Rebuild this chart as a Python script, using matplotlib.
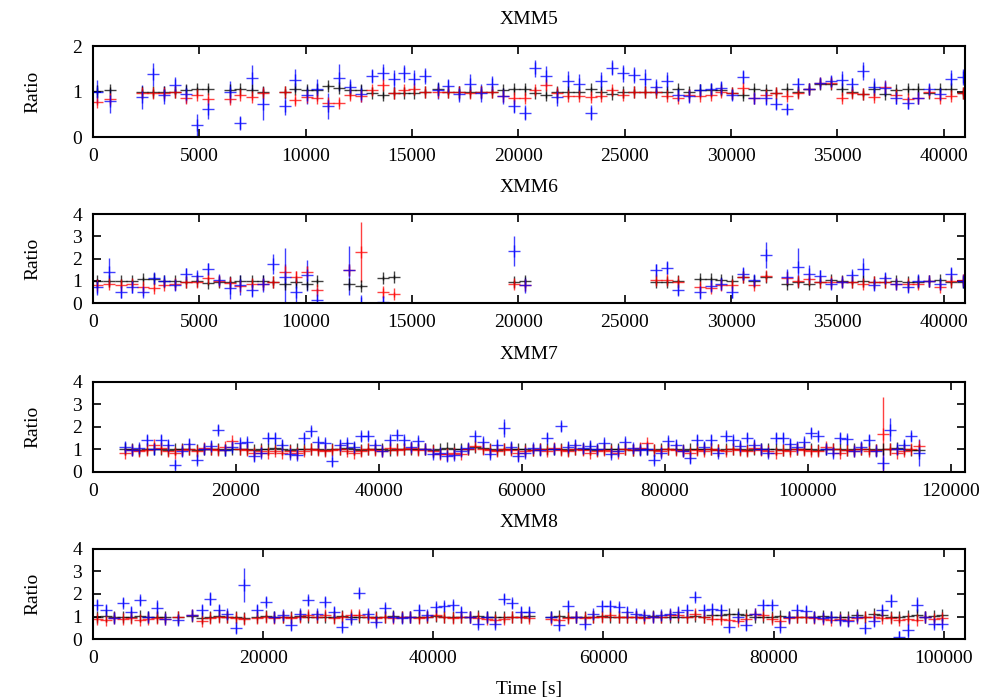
import numpy as np
import matplotlib
matplotlib.use("Agg")
import matplotlib.pyplot as plt

plt.rcParams['font.family'] = ['Liberation Serif', 'DejaVu Serif']
plt.rcParams['font.size'] = 14

# ---------------- XMM5 ----------------
t5 = [200, 800, 2300, 2800, 3350, 3870, 4370, 4890, 5390, 6430,
      6930, 7480, 7990, 9010, 9500, 10050, 10550, 11070, 11570, 12080,
      12590, 13100, 13620, 14140, 14640, 15110, 15630, 16210, 16710, 17230,
      17740, 18260, 18770, 19280, 19800, 20300, 20800, 21320, 21840, 22340,
      22860, 23400, 23880, 24390, 24910, 25440, 25960, 26480, 26980, 27500,
      28000, 28520, 29040, 29540, 30050, 30570, 31100, 31620, 32120, 32640,
      33160, 33660, 34170, 34690, 35210, 35710, 36210, 36730, 37250, 37750,
      38300, 38810, 39320, 39830, 40350, 40900]
black5 = [1.02, 1.04, 1.0, 0.99, 1.0, 1.0, 1.03, 1.05, 1.06, 1.03,
          1.05, 1.03, 1.0, 1.0, 1.06, 1.03, 1.03, 1.12, 1.09, 1.03,
          1.03, 0.98, 0.93, 0.98, 0.98, 0.98, 1.0, 1.05, 1.0, 1.0,
          1.0, 1.0, 1.0, 1.03, 1.05, 1.06, 0.98, 0.93, 1.0, 1.0,
          1.0, 1.05, 1.0, 0.96, 1.0, 1.0, 1.0, 1.0, 1.0, 1.05,
          1.0, 1.03, 1.03, 1.03, 0.98, 0.93, 1.05, 1.03, 0.98, 1.05,
          1.0, 1.06, 1.18, 1.18, 1.05, 1.0, 0.96, 1.05, 0.96, 1.03,
          1.06, 1.06, 0.98, 1.05, 1.05, 0.98]
red5 = [0.78, 0.83, 0.98, 0.97, 0.98, 1.0, 0.86, 0.93, 0.84, 0.85,
        0.93, 0.88, 0.98, 1.0, 0.81, 0.88, 0.86, 0.76, 0.76, 0.92,
        0.9, 1.03, 1.14, 0.98, 1.03, 1.06, 1.0, 1.0, 1.0, 1.0,
        0.97, 1.0, 1.0, 0.9, 0.86, 0.87, 1.03, 1.14, 0.97, 0.91,
        0.91, 0.88, 0.9, 1.03, 0.93, 1.0, 1.0, 1.0, 0.9, 0.87,
        0.93, 0.9, 0.93, 1.0, 0.98, 1.08, 0.87, 0.93, 0.98, 0.91,
        0.98, 1.06, 1.2, 1.2, 0.87, 0.98, 0.96, 0.88, 1.1, 0.93,
        0.84, 0.87, 1.0, 0.86, 0.91, 0.98]
blue5 = [1.0, 0.8, 0.88, 1.38, 0.93, 1.14, 0.95, 0.26, 0.62, 1.0,
         0.31, 1.31, 0.74, 0.69, 1.25, 0.92, 1.06, 0.69, 1.31, 1.1,
         0.96, 1.34, 1.42, 1.27, 1.4, 1.29, 1.34, 1.03, 1.12, 0.95,
         1.16, 0.98, 1.16, 0.91, 0.68, 0.54, 1.51, 1.34, 0.89, 1.23,
         1.16, 0.54, 1.23, 1.53, 1.4, 1.37, 1.29, 1.1, 1.23, 0.93,
         0.91, 1.03, 1.05, 1.08, 0.93, 1.32, 0.86, 0.86, 0.73, 0.62,
         1.16, 1.06, 1.2, 1.23, 1.25, 1.16, 1.45, 1.11, 1.08, 0.87,
         0.75, 0.87, 1.05, 0.96, 1.29, 1.32]
blue5_err = [0.25, 0.27, 0.27, 0.26, 0.2, 0.18, 0.2, 0.26, 0.22, 0.24,
             0.15, 0.27, 0.36, 0.2, 0.24, 0.2, 0.22, 0.29, 0.29, 0.18,
             0.18, 0.15, 0.18, 0.2, 0.18, 0.18, 0.17, 0.18, 0.16, 0.18,
             0.22, 0.2, 0.18, 0.17, 0.15, 0.16, 0.18, 0.22, 0.2, 0.22,
             0.22, 0.16, 0.2, 0.16, 0.18, 0.18, 0.2, 0.18, 0.2, 0.12,
             0.15, 0.15, 0.15, 0.15, 0.12, 0.15, 0.12, 0.15, 0.12, 0.12,
             0.15, 0.12, 0.1, 0.12, 0.2, 0.15, 0.2, 0.2, 0.18, 0.15,
             0.12, 0.15, 0.12, 0.12, 0.18, 0.18]

# ---------------- XMM6 ----------------
t6 = [200, 770, 1300, 1820, 2330, 2850, 3350, 3870, 4390, 4890,
      5390, 5910, 6430, 6930, 7480, 7990, 8480, 9010, 9530, 10050,
      10550, 12040, 12590, 13620, 14140, 19800, 20300, 26480, 26980, 27500,
      28520, 29040, 29540, 30050, 30570, 31100, 31620, 32640, 33160, 33660,
      34170, 34690, 35210, 35710, 36210, 36730, 37250, 37750, 38300, 38810,
      39320, 39830, 40350, 40900]
black6 = [0.99, 0.99, 0.99, 0.99, 1.08, 1.08, 0.99, 0.99, 0.96, 0.99,
          0.91, 0.96, 0.96, 0.99, 0.99, 0.99, 0.93, 0.84, 0.93, 0.84,
          0.99, 0.84, 0.76, 1.14, 1.18, 0.96, 0.99, 0.93, 0.93, 1.0,
          1.08, 1.08, 1.03, 0.99, 1.18, 1.0, 1.18, 0.88, 0.96, 0.88,
          0.96, 1.03, 0.99, 0.96, 0.99, 0.96, 0.96, 0.99, 0.96, 0.96,
          0.99, 1.03, 0.93, 0.93]
red6 = [0.81, 0.84, 0.81, 0.88, 0.73, 0.66, 0.81, 0.84, 0.96, 0.96,
        1.15, 0.99, 0.91, 0.78, 0.84, 0.86, 0.93, 1.41, 1.18, 1.41,
        0.58, 1.48, 2.28, 0.48, 0.39, 0.86, 0.81, 1.03, 1.03, 0.93,
        0.73, 0.66, 0.81, 0.81, 1.18, 0.81, 1.21, 1.11, 0.99, 1.08,
        0.96, 0.96, 0.96, 0.93, 0.84, 0.96, 0.96, 0.88, 0.88, 0.86,
        0.99, 0.73, 0.99, 1.03]
red6_err_big = {9010: 0.35, 9530: 0.25, 10050: 0.25, 12040: 0.2, 12590: 1.35, 13620: 0.2}
blue6 = [0.73, 1.41, 0.48, 0.73, 0.51, 1.11, 0.99, 0.81, 1.3, 1.21,
         1.55, 1.03, 0.69, 0.81, 0.58, 0.88, 1.78, 1.18, 0.48, 1.26,
         0.16, 1.48, 0.0, 0.05, np.nan, 2.34, 0.81, 1.48, 1.6, 0.58,
         0.48, 0.78, 0.88, 0.48, 1.33, 1.03, 2.16, 1.18, 1.63, 1.33,
         1.21, 0.85, 0.93, 1.26, 1.53, 0.81, 1.14, 0.84, 0.73, 0.99,
         0.99, 0.84, 1.33, 0.99]
blue6_err = [0.37, 0.6, 0.27, 0.27, 0.2, 0.25, 0.2, 0.2, 0.27, 0.2,
             0.27, 0.2, 0.5, 0.45, 0.3, 0.4, 0.45, 1.3, 0.65, 0.7,
             0.5, 1.1, 0.35, 0.25, np.nan, 0.68, 0.35, 0.3, 0.3, 0.2,
             0.3, 0.25, 0.3, 0.25, 0.3, 0.25, 0.6, 0.35, 0.85, 0.4,
             0.3, 0.2, 0.2, 0.2, 0.5, 0.2, 0.2, 0.2, 0.25, 0.3,
             0.2, 0.2, 0.3, 0.3]

# ---------------- XMM7 ----------------
t7 = [4500, 5500, 6500, 7500, 8500, 9500, 10500, 11500, 12500, 13500,
      14500, 15500, 16500, 17500, 18500, 19500, 20500, 21500, 22500, 23500,
      24500, 25500, 26500, 27500, 28500, 29500, 30500, 31500, 32500, 33500,
      34500, 35500, 36500, 37500, 38500, 39500, 40500, 41500, 42500, 43500,
      44500, 45500, 46500, 47500, 48500, 49500, 50500, 51500, 52500, 53500,
      54500, 55500, 56500, 57500, 58500, 59500, 60500, 61500, 62500, 63500,
      64500, 65500, 66500, 67500, 68500, 69500, 70500, 71500, 72500, 73500,
      74500, 75500, 76500, 77500, 78500, 79500, 80500, 81500, 82500, 83500,
      84500, 85500, 86500, 87500, 88500, 89500, 90500, 91500, 92500, 93500,
      94500, 95500, 96500, 97500, 98500, 99500, 100500, 101500, 102500, 103500,
      104500, 105500, 106500, 107500, 108500, 109500, 110500, 111500, 112500, 113500,
      114500, 115500]
black7 = [1.0, 1.02, 0.98, 1.0, 1.03, 1.0, 0.98, 1.0, 1.02, 1.0,
          0.97, 1.0, 1.02, 1.0, 0.98, 1.03, 1.0, 1.0, 0.98, 1.02,
          1.0, 1.05, 1.0, 0.98, 1.0, 1.02, 1.0, 1.0, 0.97, 1.0,
          1.02, 1.05, 1.0, 0.98, 1.0, 1.02, 1.0, 0.98, 1.0, 1.03,
          1.0, 1.02, 1.0, 0.98, 1.0, 1.05, 1.0, 1.02, 1.0, 1.1,
          1.05, 1.0, 0.98, 1.0, 1.02, 1.0, 1.0, 0.98, 1.0, 1.02,
          1.0, 1.0, 0.97, 1.0, 1.02, 1.0, 0.98, 1.0, 1.03, 1.0,
          1.0, 0.98, 1.02, 1.0, 0.95, 1.0, 1.02, 1.0, 0.98, 1.0,
          1.02, 1.0, 1.0, 0.98, 1.0, 1.03, 1.0, 0.98, 1.0, 1.02,
          1.0, 1.0, 0.98, 1.0, 1.02, 1.0, 1.0, 0.98, 1.0, 1.03,
          1.0, 0.98, 1.0, 1.02, 1.0, 0.98, 1.0, 1.02, 1.05, 1.0,
          0.98, 0.95]
red7 = [0.85, 0.95, 0.9, 0.95, 1.2, 1.05, 0.9, 0.85, 0.95, 1.0,
        0.9, 1.05, 1.0, 0.95, 1.1, 1.35, 1.0, 0.95, 0.85, 0.9,
        0.85, 0.9, 0.85, 0.9, 0.85, 0.9, 1.0, 0.95, 0.9, 0.95,
        1.0, 0.9, 0.85, 0.9, 1.0, 0.95, 0.9, 1.05, 0.95, 1.0,
        1.05, 0.95, 1.0, 0.9, 0.8, 0.78, 0.85, 0.8, 1.0, 1.15,
        1.0, 0.95, 0.9, 1.0, 0.95, 0.85, 0.9, 0.95, 1.0, 0.9,
        1.05, 0.95, 0.9, 1.0, 0.95, 0.85, 0.9, 0.95, 0.9, 0.85,
        1.0, 0.95, 1.05, 1.27, 0.95, 0.9, 1.0, 0.95, 0.9, 0.85,
        0.95, 0.9, 1.0, 0.95, 0.9, 1.0, 0.95, 0.9, 1.05, 0.95,
        0.9, 0.85, 0.95, 0.9, 1.0, 0.95, 0.9, 0.9, 1.1, 1.0,
        0.85, 0.95, 0.9, 1.0, 0.9, 0.95, 1.67, 1.0, 0.85, 0.9,
        1.0, 1.15]
red7_err_big = {110500: 1.65}
blue7 = [1.1, 0.95, 1.05, 1.42, 1.0, 1.42, 1.2, 0.31, 0.9, 1.25,
         0.53, 1.0, 1.15, 1.87, 0.95, 1.1, 1.27, 1.3, 0.68, 0.85,
         1.5, 1.5, 1.2, 0.8, 0.76, 1.5, 1.79, 1.3, 1.27, 0.46,
         1.2, 1.27, 1.1, 1.57, 1.6, 1.2, 0.9, 1.4, 1.64, 1.4,
         1.1, 1.35, 1.0, 0.8, 0.82, 0.68, 0.75, 0.9, 1.05, 1.57,
         1.3, 0.8, 1.2, 1.94, 1.1, 0.68, 0.85, 1.05, 0.95, 1.5,
         1.0, 2.01, 1.1, 1.2, 1.05, 1.15, 1.0, 1.27, 0.8, 0.9,
         1.3, 1.05, 0.95, 1.0, 0.53, 0.85, 1.35, 1.2, 0.9, 0.6,
         1.42, 1.1, 1.42, 0.85, 1.57, 1.4, 1.15, 1.5, 1.2, 1.0,
         0.85, 1.5, 1.5, 1.25, 1.1, 1.3, 1.72, 1.6, 1.0, 0.85,
         1.5, 1.45, 0.9, 1.1, 1.42, 0.9, 0.38, 1.87, 1.0, 1.2,
         1.57, 0.84]
blue7_err_big = {57500: 0.4, 110500: 0.5, 111500: 0.5, 115500: 0.6}

# ---------------- XMM8 ----------------
t8 = [500, 1500, 2500, 3500, 4500, 5500, 6500, 7500, 8500,
      10000, 11600,
      12800, 13800, 14800, 15800, 16800, 17800,
      19300, 20300, 21300, 22300, 23300, 24300, 25300, 26300, 27300, 28300,
      29300, 30300, 31300, 32300, 33300, 34300, 35300, 36300, 37300, 38300,
      39300, 40300, 41300, 42300, 43300,
      44300, 45300, 46300, 47300, 48300, 49300, 50300, 51300,
      53800, 54800, 55800, 56800, 57800, 58800, 59800, 60800, 61800, 62800,
      63800, 64800, 65800, 66800, 67800, 68800, 69800, 70800, 71800, 72800,
      73800, 74800, 75800, 76800, 77800, 78800, 79800, 80800, 81800, 82800,
      83800, 84800, 85800, 86800, 87800, 88800, 89800, 90800, 91800, 92800,
      93800, 94800, 95800, 96800, 97800, 98800, 99800]
black8 = [1.0, 1.02, 1.0, 0.98, 1.0, 1.02, 1.0, 1.0, 0.98,
          1.0, 1.02,
          0.95, 1.0, 1.02, 1.0, 0.98, 0.95,
          1.0, 1.02, 1.0, 0.98, 1.0, 1.02, 1.0, 1.0, 0.98, 1.0,
          1.02, 1.0, 1.0, 1.0, 0.98, 1.0, 1.02, 1.0, 1.0, 0.98,
          1.0, 1.02, 1.0, 1.0, 1.0,
          1.0, 1.02, 1.0, 1.0, 0.98, 1.0, 1.0, 1.02,
          1.0, 1.02, 1.0, 0.98, 1.0, 1.0, 1.02, 1.0, 1.0, 0.98,
          1.0, 1.0, 1.02, 1.0, 1.0, 0.98, 1.0, 1.02, 1.0, 1.05,
          1.05, 1.1, 1.12, 1.05, 1.0, 0.98, 1.0, 1.02, 1.0, 1.0,
          0.98, 1.0, 1.02, 1.0, 1.0, 0.98, 1.05, 1.0, 1.1, 1.05,
          1.0, 1.0, 1.02, 1.05, 1.0, 1.02, 1.05]
red8 = [0.9, 0.85, 0.95, 0.9, 0.95, 0.85, 0.9, 0.95, 0.9,
        1.0, 1.05,
        0.8, 0.95, 1.0, 1.0, 0.95, 0.9,
        0.95, 1.0, 0.95, 1.0, 0.95, 1.0, 1.05, 1.0, 1.05, 0.95,
        1.0, 1.05, 1.05, 1.0, 0.95, 1.0, 0.95, 1.0, 1.0, 0.95,
        1.0, 1.05, 1.0, 0.95, 1.0,
        1.0, 0.95, 0.9, 0.85, 0.9, 1.0, 1.0, 0.95,
        0.9, 0.85, 0.95, 1.0, 0.95, 1.0, 1.0, 1.05, 1.0, 1.0,
        1.0, 0.95, 1.0, 1.0, 1.05, 1.05, 1.0, 1.1, 1.0, 0.9,
        0.9, 0.85, 0.8, 0.9, 1.1, 1.05, 0.9, 0.78, 0.95, 1.0,
        1.0, 0.95, 0.9, 0.85, 0.9, 0.85, 0.95, 1.0, 1.0, 0.95,
        0.95, 0.85, 0.9, 0.85, 1.0, 0.9, 0.95]
blue8 = [1.51, 1.29, 0.95, 1.61, 1.22, 1.73, 1.0, 1.39, 0.9,
         0.84, 1.07,
         1.29, 1.79, 1.3, 1.1, 0.47, 2.4,
         1.29, 1.66, 1.0, 1.05, 0.62, 1.1, 1.73, 1.1, 1.66, 1.2,
         0.54, 0.9, 2.03, 1.1, 0.76, 1.36, 1.0, 0.95, 1.0, 1.29,
         1.05, 1.4, 1.45, 1.5, 1.2,
         1.0, 0.69, 1.0, 0.69, 1.79, 1.58, 1.22, 1.22,
         1.0, 0.62, 1.47, 1.0, 0.69, 1.1, 1.47, 1.47, 1.4, 1.2,
         1.1, 1.05, 1.0, 1.05, 1.1, 1.2, 1.3, 1.88, 1.29, 1.35,
         1.29, 0.52, 1.0, 0.62, 1.1, 1.51, 1.5, 0.54, 1.0, 1.29,
         1.25, 1.0, 0.95, 1.0, 0.85, 0.8, 1.0, 0.47, 0.8, 1.29,
         1.7, 0.1, 0.4, 1.51, 1.0, 0.69, 0.69]
blue8_err_big = {7500: 0.35, 13800: 0.3, 17800: 0.75, 93800: 0.3,
                 94800: 0.25, 95800: 0.35, 96800: 0.35}


def errs(times, base, big=None):
    big = big or {}
    return [big.get(t, base) for t in times]


panels = [
    ("XMM5", t5, black5, errs(t5, 0.06), red5, errs(t5, 0.07), blue5, blue5_err,
     (0, 41000), range(0, 40001, 5000), (0, 2), [0, 1, 2]),
    ("XMM6", t6, black6, errs(t6, 0.1), red6, errs(t6, 0.12, red6_err_big), blue6, blue6_err,
     (0, 41000), range(0, 40001, 5000), (0, 4), [0, 1, 2, 3, 4]),
    ("XMM7", t7, black7, errs(t7, 0.06), red7, errs(t7, 0.1, red7_err_big),
     blue7, errs(t7, 0.2, blue7_err_big),
     (0, 122000), range(0, 120001, 20000), (0, 4), [0, 1, 2, 3, 4]),
    ("XMM8", t8, black8, errs(t8, 0.06), red8, errs(t8, 0.1),
     blue8, errs(t8, 0.2, blue8_err_big),
     (0, 102500), range(0, 100001, 20000), (0, 4), [0, 1, 2, 3, 4]),
]

# axes rectangles in figure fractions [left, bottom, width, height]
rects = [[0.093, 0.804, 0.872, 0.130],
         [0.093, 0.567, 0.872, 0.127],
         [0.093, 0.326, 0.872, 0.129],
         [0.093, 0.087, 0.872, 0.129]]

fig = plt.figure(figsize=(10, 7), dpi=100)

for rect, (name, t, bk, bke, rd, rde, bl, ble, xl, xt, yl, yt) in zip(rects, panels):
    ax = fig.add_axes(rect)
    style = dict(fmt='+', ms=8, mew=1.0, elinewidth=1.0, capsize=0, alpha=0.75)
    ax.errorbar(t, bk, yerr=bke, color='black', **style)
    ax.errorbar(t, rd, yerr=rde, color='#ff0000', **style)
    ax.errorbar(t, bl, yerr=ble, color='#0000ff', **style)
    ax.set_xlim(*xl)
    ax.set_ylim(*yl)
    ax.set_xticks(list(xt))
    ax.set_yticks(yt)
    ax.tick_params(direction='in', top=True, right=True, length=6, width=1.2, pad=8)
    for s in ax.spines.values():
        s.set_linewidth(1.5)
    ax.set_title(name, fontsize=14, pad=16)
    ax.set_ylabel("Ratio", labelpad=22)

ax.set_xlabel("Time [s]", labelpad=10)

fig.savefig("out.png", dpi=100)
